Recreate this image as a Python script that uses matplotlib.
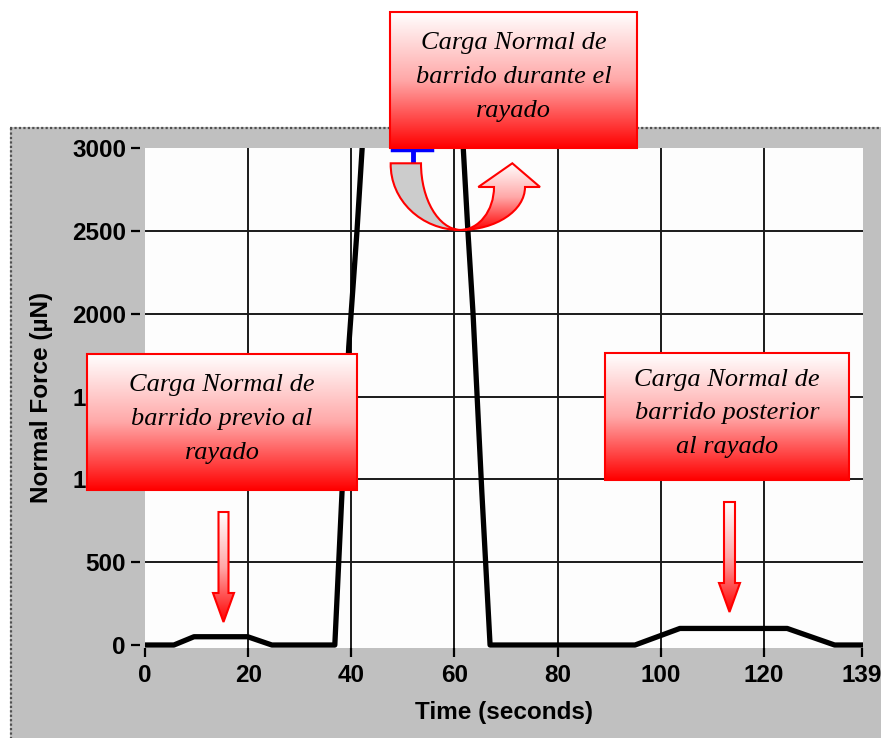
import numpy as np
import matplotlib
matplotlib.use("Agg")
import matplotlib.pyplot as plt
from matplotlib.patches import Rectangle, Polygon, PathPatch
from matplotlib.path import Path
from matplotlib.colors import LinearSegmentedColormap

plt.rcParams['font.family'] = ['Liberation Sans', 'DejaVu Sans']
plt.rcParams['font.weight'] = 'bold'

# normal force trace of the scratch test
time_s = [0, 5.6, 9.5, 19.9, 24.6, 36.8, 38.2, 39.5, 41.1, 42.1, 43.0,
          61.0, 61.7, 62.6, 63.6, 65.3, 66.9, 95.0, 103.7, 124.5, 133.7, 139]
force_uN = [0, 0, 50, 50, 0, 0, 925, 1800, 2500, 3000, 3200,
            3200, 3000, 2500, 2000, 925, 0, 0, 100, 100, 0, 0]

x_ticks = [0, 20, 40, 60, 80, 100, 120, 139]
y_ticks = [0, 500, 1000, 1500, 2000, 2500, 3000]
grid_x = [20, 40, 60, 80, 100, 120]
grid_y = [500, 1000, 1500, 2000, 2500]

# blue scan-length marker at the top of the load
scan_t = [47.9, 55.6]
scan_mid = 51.9
scan_F = [2985, 2910]

notes = ["Carga Normal de\nbarrido previo al\nrayado",
         "Carga Normal de\nbarrido durante el\nrayado",
         "Carga Normal de\nbarrido posterior\nal rayado"]

W, H = 881, 738
fig = plt.figure(figsize=(W / 100, H / 100), dpi=100)

# grey window panel behind the plot
bg = fig.add_axes([0, 0, 1, 1], zorder=-1)
bg.set_xlim(0, W)
bg.set_ylim(H, 0)
bg.axis('off')
bg.add_patch(Rectangle((10, 127), W, H, facecolor='#c0c0c0', edgecolor='none'))
bg.plot([10, W], [128, 128], color='#505050', lw=1.6, ls=(0, (1, 1)))
bg.plot([11, 11], [128, H], color='#505050', lw=1.6, ls=(0, (1, 1)))

ax = fig.add_axes([145 / W, 1 - 647.5 / H, 718 / W, 499.5 / H], zorder=1)
ax.set_facecolor('#fdfdfd')
ax.set_xlim(0, 139.2)
ax.set_ylim(-15, 3000)
for gx in grid_x:
    ax.axvline(gx, color='#1a1a1a', lw=1.4, zorder=1)
for gy in grid_y:
    ax.axhline(gy, color='#1a1a1a', lw=1.4, zorder=1)
ax.plot(time_s, force_uN, color='black', lw=3.8, zorder=3)
ax.plot(scan_t, [scan_F[0]] * 2, color='#0000ff', lw=2.5, zorder=4, clip_on=False)
ax.plot([scan_mid] * 2, scan_F, color='#0000ff', lw=3.5, zorder=4)

for s in ax.spines.values():
    s.set_visible(False)
ax.spines['left'].set_position(('outward', 3.6))
ax.spines['bottom'].set_position(('outward', 0.5))
ax.set_xticks(x_ticks)
ax.set_yticks(y_ticks)
ax.tick_params(direction='out', length=6.5, width=1.6, colors='black',
               labelsize=17.5)
ax.tick_params(axis='y', pad=3.6)
ax.tick_params(axis='x', pad=5)
ax.set_xlabel('Time (seconds)', fontsize=17.5, fontweight='bold', va='center')
ax.xaxis.set_label_coords(0.5, (647.5 - 712) / 499.5)
ax.set_ylabel('Normal Force (µN)', fontsize=17.5, fontweight='bold', va='center')
ax.yaxis.set_label_coords((42 - 145) / 718, 0.5)

# callouts drawn on top in pixel coordinates
ov = fig.add_axes([0, 0, 1, 1], zorder=5)
ov.patch.set_visible(False)
ov.axis('off')

red_fade = LinearSegmentedColormap.from_list('red_fade', ['#ffffff', '#ffa8a8', '#ff0000'])


def faded(patch, x0, x1, y0, y1, z):
    patch.set_facecolor('none')
    patch.set_edgecolor('#ff0000')
    patch.set_linewidth(1.5)
    patch.set_zorder(z + 0.1)
    ov.add_patch(patch)
    im = ov.imshow(np.linspace(0, 1, 256)[:, None], cmap=red_fade,
                   extent=(x0, x1, y1, y0), aspect='auto', zorder=z,
                   interpolation='bilinear')
    im.set_clip_path(patch)


boxes = [(87, 354, 357, 490), (390, 12, 637, 148), (605, 353, 849, 480)]
for (x0, y0, x1, y1), txt in zip(boxes, notes):
    faded(Rectangle((x0, y0), x1 - x0, y1 - y0), x0, x1, y0, y1, 6)
    ov.text((x0 + x1) / 2, (y0 + y1) / 2 - 3, txt, ha='center', va='center',
            family='Liberation Serif', style='italic', fontweight='normal',
            fontsize=19, linespacing=1.7, zorder=7)

# down arrows under the side callouts
for cx, top, neck, tip, hw in [(223.5, 512, 593, 622, 5), (729.5, 502, 583, 612, 5.5)]:
    pts = [(cx - hw, top), (cx + hw, top), (cx + hw, neck), (cx + 10.5, neck),
           (cx, tip), (cx - 10.5, neck), (cx - hw, neck)]
    faded(Polygon(pts, closed=True), cx - 11, cx + 11, top, tip, 6)

# U-turn arrow below the middle callout
grey_band = Path([(390.7, 163.3), (390, 200), (421.4, 230), (460, 230),
                  (438.5, 229), (421, 199.4), (421, 163.3), (390.7, 163.3)],
                 [Path.MOVETO, Path.CURVE4, Path.CURVE4, Path.CURVE4,
                  Path.CURVE4, Path.CURVE4, Path.CURVE4, Path.CLOSEPOLY])
ov.add_patch(PathPatch(grey_band, facecolor='#cccccc', edgecolor='#ff0000',
                       lw=1.5, zorder=6))
red_band = Path([(460, 230), (495.9, 230), (525, 210.7), (525, 187),
                 (540, 187), (512.3, 163.3), (478.3, 187), (494, 187),
                 (494, 210.7), (478.8, 230), (460, 230), (460, 230)],
                [Path.MOVETO, Path.CURVE4, Path.CURVE4, Path.CURVE4,
                 Path.LINETO, Path.LINETO, Path.LINETO, Path.LINETO,
                 Path.CURVE4, Path.CURVE4, Path.CURVE4, Path.CLOSEPOLY])
faded(PathPatch(red_band), 460, 541, 163, 231, 6.2)

ov.set_xlim(0, W)
ov.set_ylim(H, 0)

fig.savefig('out.png', dpi=100)
